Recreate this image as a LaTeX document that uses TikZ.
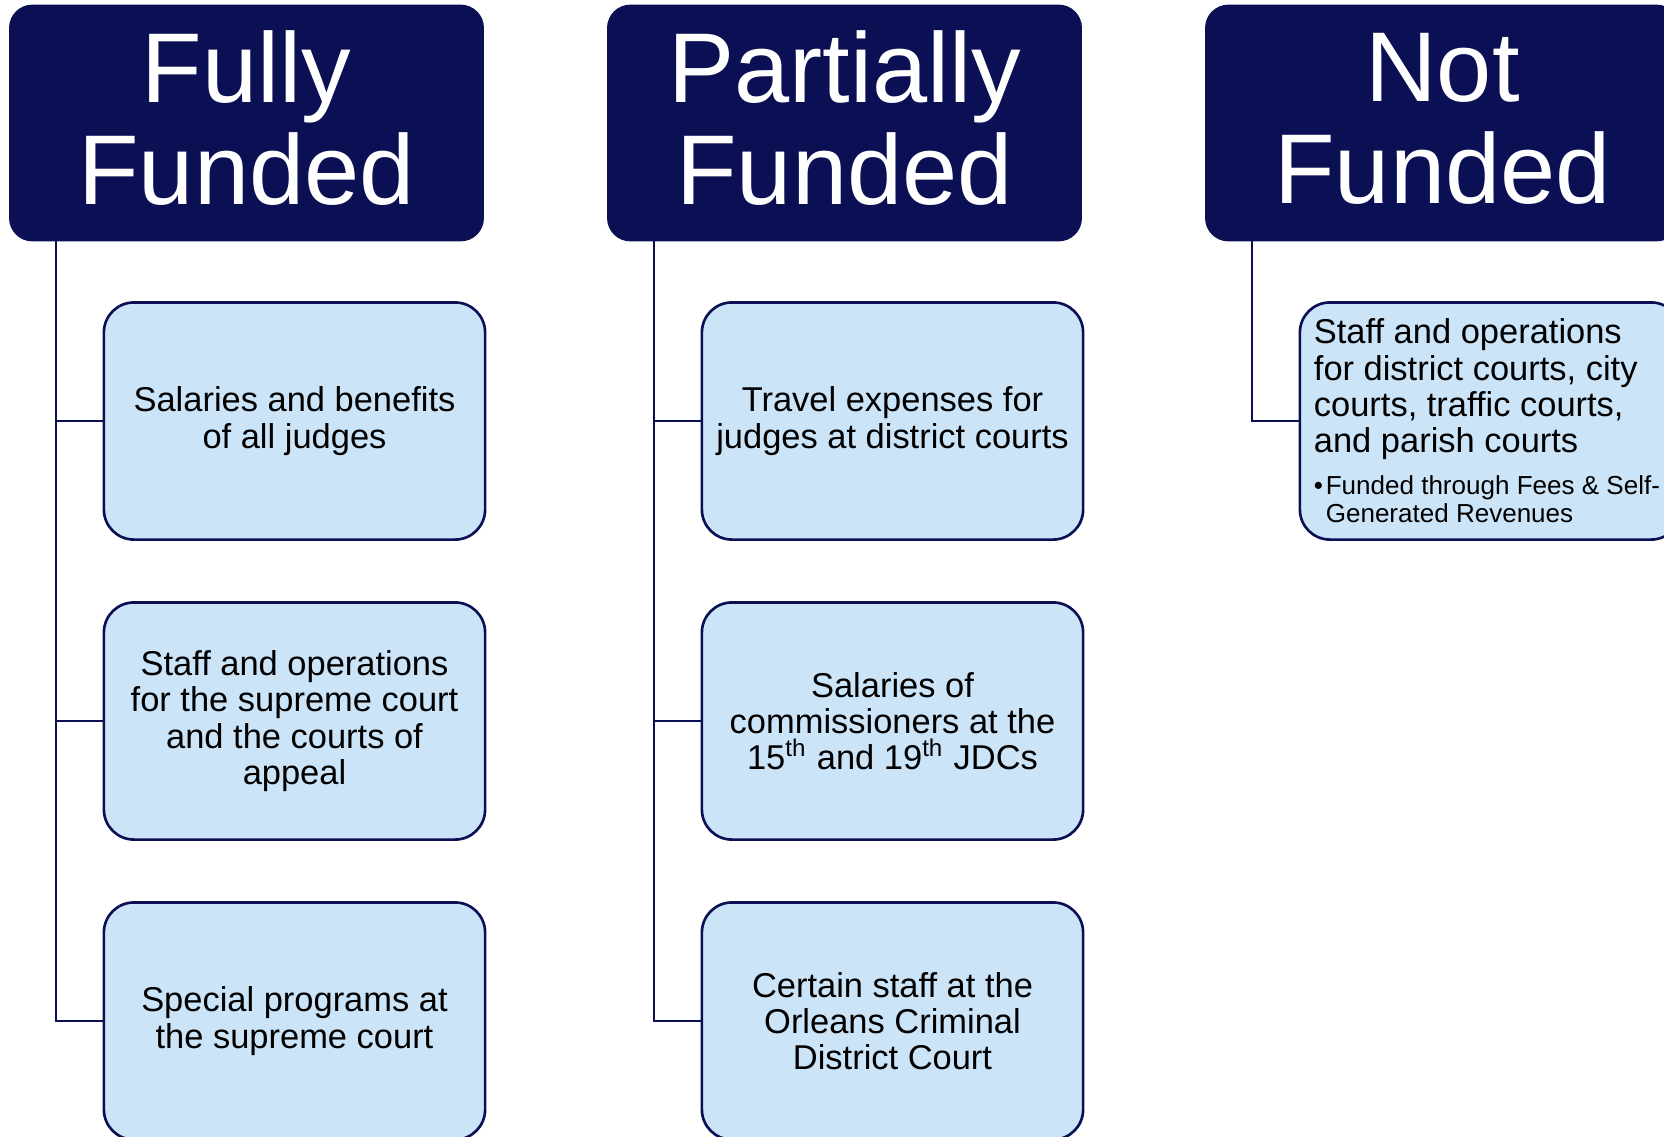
\documentclass[tikz,border=0pt]{standalone}
\usepackage{fontspec}
\setmainfont{Liberation Sans}
\definecolor{fund_navy}{RGB}{11, 15, 84}
\definecolor{fund_blue}{RGB}{204, 228, 247}
\tikzstyle{hdr}=[rectangle,rounded corners=0.22cm,fill=fund_navy,draw=fund_navy,text=white,
  line width=0.75pt,minimum width=4.72cm,minimum height=2.34cm,align=center,
  text depth=2.85pt,font=\fontsize{28.2}{29}\selectfont]
\tikzstyle{itm}=[rectangle,rounded corners=0.3cm,fill=fund_blue,draw=fund_navy,
  line width=0.75pt,minimum width=3.81cm,minimum height=2.37cm,align=center,
  font=\fontsize{9.8}{10.3}\selectfont]
\tikzstyle{link}=[draw=fund_navy,line width=0.75pt]

\begin{document}
\begin{tikzpicture}[x=0.01cm, y=-0.01cm]
            \useasboundingbox (0, 0) rectangle (1664, 1136);
            \node [style=hdr] (0) at (246.5, 123) {Fully\\Funded};
            \node [style=hdr] (1) at (844.5, 123) {Partially\\Funded};
            \node [style=hdr] (2) at (1442.5, 123) {Not\\Funded};
            \node [style=itm] (3) at (294.5, 421) {Salaries and benefits\\of all judges};
            \node [style=itm] (4) at (294.5, 721) {Staff and operations\\for the supreme court\\and the courts of\\appeal};
            \node [style=itm] (5) at (294.5, 1021) {Special programs at\\the supreme court};
            \node [style=itm] (6) at (892.5, 421) {Travel expenses for\\judges at district courts};
            \node [style=itm] (7) at (892.5, 721) {Salaries of\\commissioners at the\\15\textsuperscript{th} and 19\textsuperscript{th} JDCs};
            \node [style=itm] (8) at (892.5, 1021) {Certain staff at the\\Orleans Criminal\\District Court};
            \node [style=itm, text width=3.53cm, align=left] (9) at (1490.5, 421) {\spaceskip=0pt\xspaceskip=0pt
              Staff and operations\\for district courts, city\\courts, traffic courts,\\and parish courts\par
              \vspace{4pt}{\fontsize{7.4}{8}\selectfont\textbullet\kern0.8pt\parbox[t]{4cm}{\raggedright Funded through Fees \& Self-\\Generated Revenues}\par}};
            \draw [style=link] ([xshift=0.47cm]0.south west) |- (3.west);
            \draw [style=link] ([xshift=0.47cm]0.south west) |- (4.west);
            \draw [style=link] ([xshift=0.47cm]0.south west) |- (5.west);
            \draw [style=link] ([xshift=0.47cm]1.south west) |- (6.west);
            \draw [style=link] ([xshift=0.47cm]1.south west) |- (7.west);
            \draw [style=link] ([xshift=0.47cm]1.south west) |- (8.west);
            \draw [style=link] ([xshift=0.47cm]2.south west) |- (9.west);
    \end{tikzpicture}
\end{document}
